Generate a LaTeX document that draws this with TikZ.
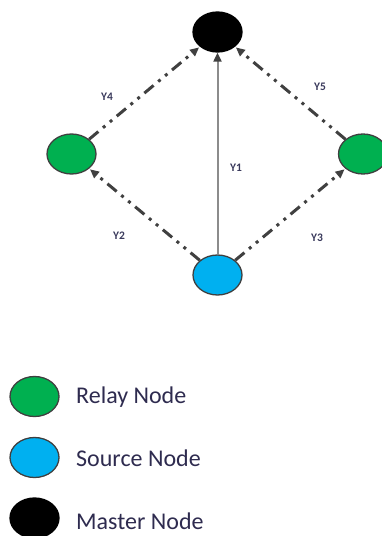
\documentclass[tikz,border=0pt]{standalone}
\usepackage{fontspec}
\setmainfont{Carlito}
\usetikzlibrary{arrows.meta,shapes.geometric}
\definecolor{relaygreen}{HTML}{00B050}
\definecolor{sourceblue}{HTML}{00B0F0}
\definecolor{rimgrey}{HTML}{3F3F3F}
\definecolor{linkgrey}{HTML}{404040}
\definecolor{axisgrey}{HTML}{8C8C8C}
\definecolor{labelink}{HTML}{3A3A5C}
\definecolor{legendink}{HTML}{2E2B4F}
\tikzset{
  station/.style={ellipse, draw=rimgrey, line width=1.3pt, minimum width=49pt, minimum height=40pt, inner sep=0pt},
  relay/.style={station, fill=relaygreen},
  source/.style={station, fill=sourceblue},
  master/.style={station, fill=black, draw=black},
  hoplink/.style={draw=linkgrey, line width=3pt,
    dash pattern=on 12pt off 6pt on 3pt off 6pt on 3pt off 6pt,
    -{Triangle[length=9pt,width=8pt]}, shorten <=0pt, shorten >=1pt},
  directlink/.style={draw=axisgrey, line width=2pt,
    -{Triangle[length=9pt,width=8pt,color=linkgrey]}},
  linklabel/.style={text=labelink, font=\fontsize{11.5}{13}\selectfont\bfseries, inner sep=0pt},
  legendtext/.style={text=legendink, font=\fontsize{24}{28}\selectfont, anchor=west, inner sep=0pt}
}
\begin{document}
\begin{tikzpicture}[x=1pt, y=-1pt]
  \useasboundingbox (0,0) rectangle (382,536);
  \clip (0,0) rectangle (382,536);

  % network
  \node[master] (m) at (217.5,32) {};
  \node[relay] (rl) at (71.5,154) {};
  \node[relay] (rr) at (363,154) {};
  \node[source] (s) at (217.5,275) {};

  \draw[directlink] (s) -- (m);
  \draw[hoplink] (s) -- (rl);
  \draw[hoplink] (s) -- (rr);
  \draw[hoplink] (rl) -- (m);
  \draw[hoplink] (rr) -- (m);

  \node[linklabel] (l1) at (236,168) {Y1};
  \node[linklabel] (l2) at (119,236) {Y2};
  \node[linklabel] (l3) at (317,238) {Y3};
  \node[linklabel] (l4) at (107,97) {Y4};
  \node[linklabel] (l5) at (320,87) {Y5};

  % legend
  \node[relay] (kr) at (34.5,396.5) {};
  \node[source] (ks) at (34.5,457.5) {};
  \node[master] (km) at (34.5,518) {};
  \node[legendtext] (tr) at (76,397) {Relay Node};
  \node[legendtext] (ts) at (76,458) {Source Node};
  \node[legendtext] (tm) at (76,521) {Master Node};
\end{tikzpicture}
\end{document}
